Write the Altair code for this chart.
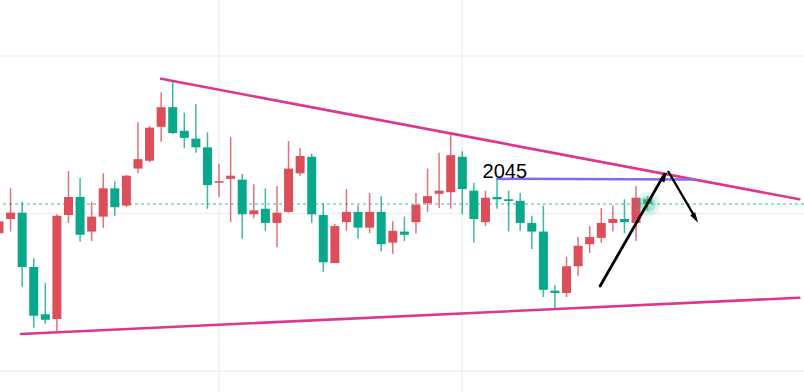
import altair as alt
import pandas as pd

# ---- candle data (index, open, high, low, close) ----
idx = list(range(57))
opens = [2037.5, 2039.3, 2040.1, 2033.2, 2027.2, 2026.6, 2039.8, 2042.1, 2037.7, 2039.6,
         2043.2, 2041.0, 2045.7, 2046.7, 2051.0, 2053.5, 2050.5, 2049.5, 2048.4, 2043.9,
         2044.4, 2044.3, 2039.9, 2040.6, 2038.8, 2040.2, 2045.1, 2047.2, 2039.8, 2033.7,
         2038.9, 2040.2, 2038.2, 2040.2, 2036.3, 2037.7, 2038.9, 2041.3, 2042.5, 2042.7,
         2047.2, 2042.9, 2038.9, 2042.1, 2041.8, 2041.6, 2038.8, 2037.7, 2030.2, 2029.9,
         2033.3, 2036.1, 2036.9, 2038.8, 2039.3, 2038.8, 2041.8]
highs = [2039.8, 2043.2, 2041.5, 2034.3, 2031.2, 2039.9, 2045.4, 2044.5, 2041.5, 2045.1,
         2044.1, 2044.9, 2051.6, 2051.1, 2055.4, 2056.7, 2052.8, 2053.9, 2050.3, 2046.3,
         2049.7, 2045.0, 2043.7, 2043.2, 2043.5, 2049.2, 2048.3, 2047.6, 2041.3, 2038.7,
         2043.1, 2041.0, 2042.6, 2042.2, 2039.0, 2039.6, 2042.6, 2045.7, 2047.7, 2050.0,
         2047.9, 2043.9, 2042.9, 2044.5, 2042.9, 2042.6, 2039.7, 2041.0, 2030.9, 2034.5,
         2037.0, 2038.4, 2040.7, 2041.0, 2041.8, 2043.5, 2042.2]
lows = [2036.9, 2037.7, 2030.7, 2025.5, 2026.0, 2024.8, 2038.8, 2036.4, 2036.5, 2038.2,
        2039.7, 2040.8, 2045.1, 2046.5, 2049.1, 2050.1, 2048.3, 2047.7, 2040.6, 2042.1,
        2038.9, 2036.8, 2039.4, 2037.8, 2035.7, 2040.1, 2044.8, 2038.8, 2032.6, 2033.7,
        2037.8, 2036.8, 2037.5, 2035.2, 2034.9, 2036.5, 2037.5, 2040.2, 2040.7, 2040.6,
        2039.9, 2036.3, 2038.4, 2040.6, 2037.7, 2037.8, 2035.5, 2029.4, 2027.9, 2029.4,
        2032.1, 2035.0, 2036.3, 2037.7, 2037.5, 2036.5, 2040.4]
closes = [2039.0, 2040.1, 2033.2, 2027.0, 2026.5, 2039.7, 2042.1, 2037.3, 2039.6, 2043.2,
          2040.8, 2044.8, 2046.9, 2050.9, 2053.5, 2050.2, 2049.6, 2048.4, 2043.6, 2044.1,
          2044.8, 2039.9, 2040.4, 2038.8, 2040.1, 2045.7, 2047.3, 2039.9, 2033.8, 2038.4,
          2040.2, 2038.2, 2040.2, 2036.1, 2037.8, 2037.3, 2041.1, 2042.2, 2042.9, 2047.4,
          2043.1, 2039.3, 2042.0, 2041.8, 2041.6, 2038.8, 2037.7, 2030.3, 2029.9, 2033.3,
          2035.9, 2037.0, 2038.8, 2039.3, 2038.9, 2042.0, 2041.2]

# ---- reference lines / annotations ----
grid_prices = [2020, 2040, 2060]
grid_index = [19, 40]
last_price = 2041.2
upper_trend = [(14.0, 2057.1), (69.1, 2041.8)]
lower_trend = [(1.9, 2024.7), (69.1, 2029.3)]
resistance = [(43.05, 2044.4), (60.0, 2044.3)]
label_text = "2045"
label_pos = (41.75, 2044.5)
arrow_up = [(51.9, 2030.8), (57.45, 2045.0)]
arrow_down = [(57.8, 2045.3), (60.1, 2039.5)]
arrow_heads = [(57.45, 2044.7, 30), (60.12, 2039.4, 149)]

df = pd.DataFrame(dict(i=idx, o=opens, h=highs, l=lows, c=closes))
df["dir"] = ["up" if c >= o else "down" for o, c in zip(opens, closes)]

X = alt.Scale(domain=[0.52, 69.07], nice=False, zero=False)
Y = alt.Scale(domain=[2017.33, 2067.11], nice=False, zero=False)
col = alt.Color("dir:N", scale=alt.Scale(domain=["up", "down"], range=["#DB4E5A", "#0AA88A"]), legend=None)

def xq(f):
    return alt.X(f, type="quantitative", scale=X, axis=None)

def yq(f):
    return alt.Y(f, type="quantitative", scale=Y, axis=None)

hgrid = alt.Chart(pd.DataFrame({"p": grid_prices})).mark_rule(color="#EEF0F3", strokeWidth=1.5).encode(
    y=yq("p"))
vgrid = alt.Chart(pd.DataFrame({"i": grid_index})).mark_rule(color="#EEF0F3", strokeWidth=1.5).encode(
    x=xq("i"))

wicks = alt.Chart(df).mark_rule(strokeWidth=1.5, opacity=0.8, clip=True).encode(
    x=xq("i"), y=yq("l"), y2="h", color=col)
bodies = alt.Chart(df).mark_bar(size=9, clip=True).encode(
    x=xq("i"), y=yq("o"), y2="c", color=col)

lastline = alt.Chart(pd.DataFrame({"p": [last_price]})).mark_rule(
    color="#3DB9A0", strokeWidth=1, strokeDash=[3, 3]).encode(y=yq("p"))

glow_df = pd.DataFrame({"i": [idx[-1]], "p": [last_price]})
glow1 = alt.Chart(glow_df).mark_circle(color="#2DBB9C", opacity=0.15, size=600).encode(x=xq("i"), y=yq("p"))
glow2 = alt.Chart(glow_df).mark_circle(color="#2DBB9C", opacity=0.3, size=260).encode(x=xq("i"), y=yq("p"))

def seg(pts, color, width):
    d = pd.DataFrame({"x1": [pts[0][0]], "y1": [pts[0][1]], "x2": [pts[1][0]], "y2": [pts[1][1]]})
    return alt.Chart(d).mark_rule(color=color, strokeWidth=width, clip=True, strokeCap="round").encode(
        x=xq("x1"), y=yq("y1"), x2="x2", y2="y2")

up_line = seg(upper_trend, "#DE3590", 2.6)
low_line = seg(lower_trend, "#DE3590", 2.6)
res_line = seg(resistance, "#7D6CF2", 2.5)
arr1 = seg(arrow_up, "#000000", 2.8)
arr2 = seg(arrow_down, "#000000", 2.3)

heads = alt.Chart(pd.DataFrame(arrow_heads, columns=["i", "p", "a"])).mark_point(
    shape="M0,-1L0.55,1L-0.55,1Z", filled=True, color="#000000", size=110, opacity=1).encode(
    x=xq("i"), y=yq("p"), angle=alt.Angle("a:Q", scale=None))

label = alt.Chart(pd.DataFrame({"i": [label_pos[0]], "p": [label_pos[1]], "t": [label_text]})).mark_text(
    align="left", baseline="alphabetic", fontSize=20, font="Liberation Sans", color="#000000").encode(
    x=xq("i"), y=yq("p"), text="t:N")

chart = alt.layer(
    hgrid, vgrid, lastline, low_line, up_line, res_line, wicks, bodies, glow1, glow2,
    arr1, arr2, heads, label
).properties(width=804, height=392, padding=0, autosize="none", background="#FFFFFF").configure_view(stroke=None)

chart.save("out.html", embed_options={"renderer": "svg", "actions": False})
